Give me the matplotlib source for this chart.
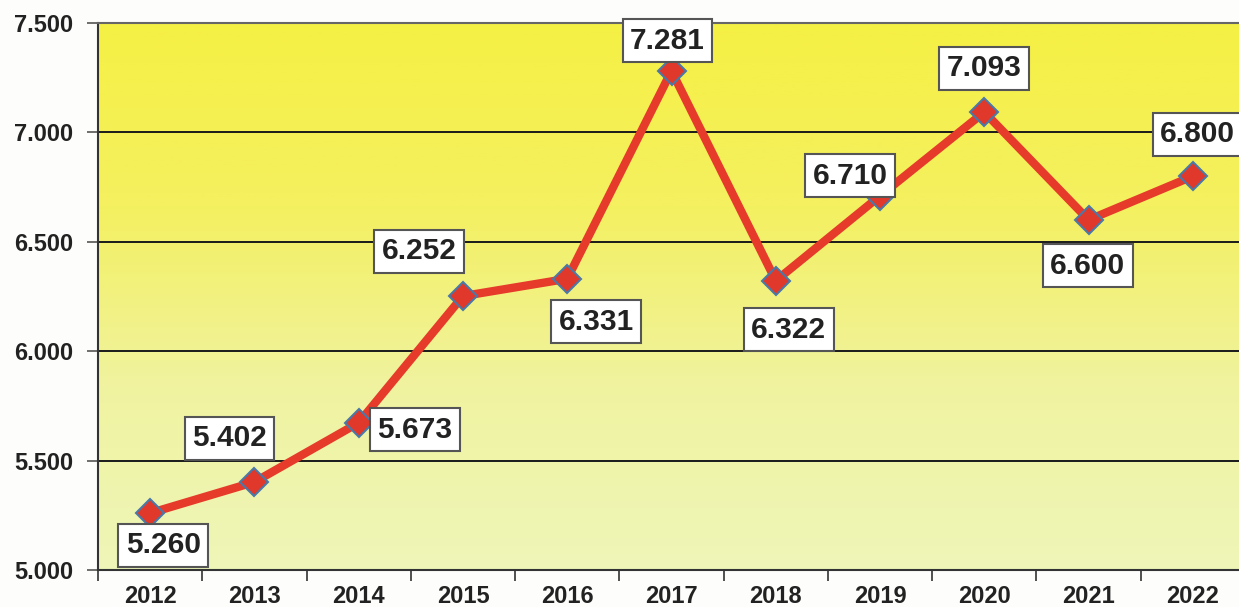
import numpy as np
import matplotlib.pyplot as plt
from matplotlib.colors import LinearSegmentedColormap

plt.rcParams['font.family'] = ['Liberation Sans', 'DejaVu Sans']

years = ['2012', '2013', '2014', '2015', '2016', '2017', '2018', '2019', '2020', '2021', '2022']
values = [5.260, 5.402, 5.673, 6.252, 6.331, 7.281, 6.322, 6.710, 7.093, 6.600, 6.800]
labels = ['5.260', '5.402', '5.673', '6.252', '6.331', '7.281', '6.322', '6.710', '7.093', '6.600', '6.800']
# label offsets in pixels (dx, dy) from the point
offsets = [(13, -32), (-25, 44), (56, -7), (-44, 45), (29, -43), (-4, 30),
           (13, -49), (-30, 20), (0, 44), (-1, -46), (5, 42)]

W, H = 1239, 607
fig = plt.figure(figsize=(W / 100, H / 100), dpi=100)
fig.patch.set_facecolor('#fdfdfb')
x0, x1, y0, y1 = 98, 1245, 23, 570
ax = fig.add_axes([x0 / W, 1 - y1 / H, (x1 - x0) / W, (y1 - y0) / H])

x = np.arange(len(years))
ax.set_xlim(-0.5, len(years) - 0.5)
ax.set_ylim(5.0, 7.5)

# yellow gradient background
cmap = LinearSegmentedColormap.from_list('bg', ['#eef6b8', '#f0f3a0', '#f4f060', '#f6f044'])
grad = np.linspace(0, 1, 256).reshape(-1, 1)
ax.imshow(grad, cmap=cmap, aspect='auto', origin='lower',
          extent=(-0.5, len(years) - 0.5, 5.0, 7.5), zorder=0)

for yv in [5.5, 6.0, 6.5, 7.0]:
    ax.axhline(yv, color='#1a1a1a', lw=1.4, zorder=1)

ax.plot(x, values, color='#e63a2a', lw=6, zorder=3,
        marker='D', ms=14, mfc='#e0382a', mec='#4a78a8', mew=1.5)

for xi, v, lab, (dx, dy) in zip(x, values, labels, offsets):
    ax.annotate(lab, (xi, v), xytext=(dx, dy), textcoords='offset pixels',
                ha='center', va='center', fontsize=21.5, fontweight='bold', color='#222222',
                bbox=dict(boxstyle='square,pad=0.25', fc='white', ec='#555555', lw=1.5),
                zorder=5)

ax.set_yticks([5.0, 5.5, 6.0, 6.5, 7.0, 7.5])
ax.set_yticklabels(['5.000', '5.500', '6.000', '6.500', '7.000', '7.500'],
                   fontsize=17, fontweight='bold', color='#222222')
ax.set_xticks(x)
ax.set_xticklabels(years, fontsize=17, fontweight='bold', color='#222222')
ax.set_xticks(np.arange(-0.5, len(years)), minor=True)
ax.tick_params(axis='x', which='major', length=0, pad=11)
ax.tick_params(axis='x', which='minor', length=8, width=1.2, color='#333333')
ax.tick_params(axis='y', length=8, width=1.2, color='#555555', pad=10)

for s in ['left', 'bottom']:
    ax.spines[s].set_color('#333333')
    ax.spines[s].set_linewidth(1.5)
ax.spines['top'].set_color('#666666')
ax.spines['top'].set_linewidth(1.5)
ax.spines['right'].set_visible(False)

fig.savefig('out.png', dpi=100)
